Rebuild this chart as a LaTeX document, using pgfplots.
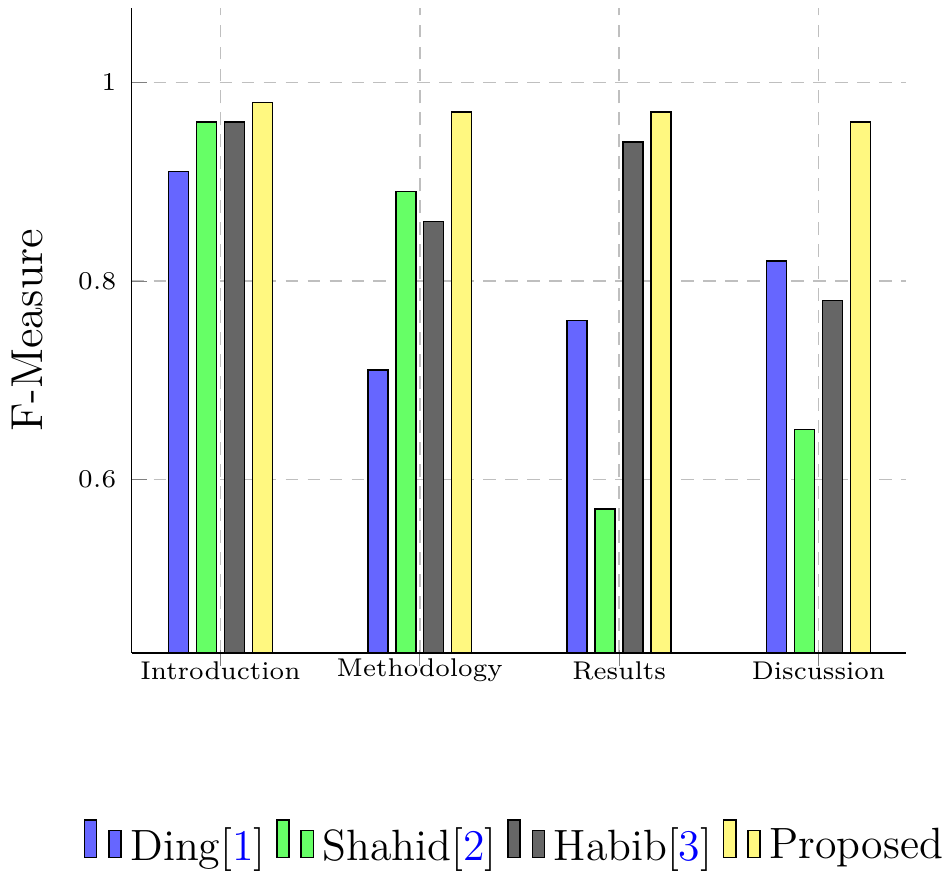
\documentclass[border=0pt]{standalone}
\usepackage{pgfplots}
\pgfplotsset{compat=1.18}
\pgfplotsset{/pgfplots/ybar legend/.style={/pgfplots/legend image code/.code={%
  \draw[##1,/tikz/.cd,bar width=3.3pt,yshift=-3pt,bar shift=0pt]
    plot coordinates {(0cm,10.2pt) (2*\pgfplotbarwidth,7.4pt)};}}}
\begin{document}
\begin{tikzpicture}
\begin{axis}[
  scale only axis,
  width=211.4pt, height=176pt,
  ybar=2.18pt, bar width=5.45pt,
  xmin=-0.445, xmax=3.44,
  ymin=0.425, ymax=1.075,
  xtick={0,1,2,3},
  xticklabels={Introduction,Methodology,Results,Discussion},
  ytick={0.6,0.8,1},
  axis x line*=bottom, axis y line*=left,
  x axis line style={-}, y axis line style={-},
  tick align=inside,
  xtick style={draw=gray, yshift=-3.5pt},
  ytick style={draw=gray},
  ticklabel style={font=\scriptsize},
  xticklabel style={anchor=center, yshift=-4.8pt},
  yticklabel style={xshift=-0.7pt},
  ymajorgrids, xmajorgrids,
  major grid style={gray!50, dash pattern=on 3.5pt off 2.5pt},
  ylabel={F-Measure},
  ylabel style={font=\fontsize{12.2}{14}\selectfont},
  ylabel shift=2.7pt,
  legend columns=4,
  legend style={draw=none, inner sep=0pt, nodes={inner xsep=0pt},
    font=\fontsize{11.95}{15}\selectfont, at={(0.5,-0.257)}, anchor=north, xshift=-1.5pt,
    /tikz/every odd column/.append style={column sep=2.4pt},
    /tikz/every even column/.append style={column sep=2.9pt}},
]
\addplot[fill=blue!60, draw=black] coordinates {(0,0.91) (1,0.71) (2,0.76) (3,0.82)};
\addplot[fill=green!60, draw=black] coordinates {(0,0.96) (1,0.89) (2,0.57) (3,0.65)};
\addplot[fill=black!60, draw=black] coordinates {(0,0.96) (1,0.86) (2,0.94) (3,0.78)};
\addplot[fill=yellow!50, draw=black] coordinates {(0,0.98) (1,0.97) (2,0.97) (3,0.96)};
\legend{Ding[\textcolor{blue}{1}], Shahid[\textcolor{blue}{2}], Habib[\textcolor{blue}{3}], Proposed}
\end{axis}
\path ([yshift=2.2pt]current axis.north);
\end{tikzpicture}
\end{document}
